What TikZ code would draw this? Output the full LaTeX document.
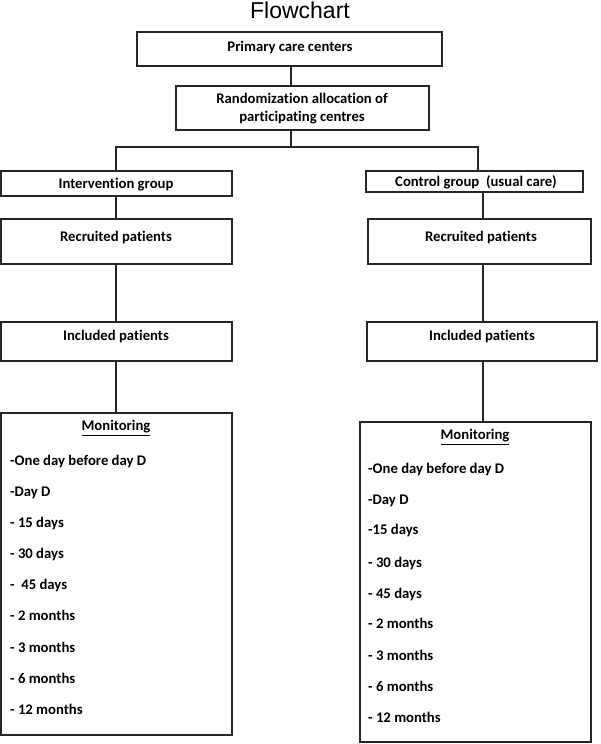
\documentclass[tikz,border=0pt]{standalone}
\usepackage{fontspec}
\setmainfont{Carlito}[Ligatures=CommonOff]
\newfontfamily\titlefont{Liberation Sans}
\begin{document}
\begin{tikzpicture}[x=1pt,y=-1pt,
  box/.style={draw=black!85,line width=1.2pt,rectangle,inner sep=0pt,outer sep=0pt},
  lbl/.style={font=\fontsize{14.7}{18}\selectfont\bfseries,inner sep=0pt,align=center},
  item/.style={font=\fontsize{14.7}{18}\selectfont\bfseries,inner sep=0pt,anchor=base west},
  conn/.style={draw=black!85,line width=1.2pt}]
\useasboundingbox (0,0) rectangle (600,744);
\node[font=\titlefont\fontsize{23}{26}\selectfont,inner sep=0pt,anchor=base] (title) at (300,18) {Flowchart};
% boxes
\node[box,minimum width=305,minimum height=34] (pcc) at (289.5,49) {};
\node[box,minimum width=253,minimum height=44] (rand) at (302.5,108) {};
\node[box,minimum width=231,minimum height=25] (ig) at (116.5,183.5) {};
\node[box,minimum width=217,minimum height=21] (cg) at (474.5,181.5) {};
\node[box,minimum width=231,minimum height=45] (rl) at (116.5,241.5) {};
\node[box,minimum width=223,minimum height=45] (rr) at (479.5,241.5) {};
\node[box,minimum width=231,minimum height=39] (il) at (116.5,341.5) {};
\node[box,minimum width=230,minimum height=39] (ir) at (482,341.5) {};
\node[box,minimum width=231,minimum height=322] (ml) at (116.5,574) {};
\node[box,minimum width=231,minimum height=320] (mr) at (475.5,582) {};
% labels
\node[lbl] (tpcc) at (290,47) {Primary care centers};
\node[lbl] (trand) at (302,109) {Randomization allocation of\\participating centres};
\node[lbl] (tig) at (116,185) {Intervention group};
\node[lbl] (tcg) at (476,182) {Control group\ \ (usual care)};
\node[lbl] (trl) at (116,237) {Recruited patients};
\node[lbl] (trr) at (481,237) {Recruited patients};
\node[lbl] (til) at (116,336) {Included patients};
\node[lbl] (tir) at (482,336) {Included patients};
\node[lbl] (tml) at (116,428) {\underline{Monitoring}};
\node[lbl] (tmr) at (475,437) {\underline{Monitoring}};
% left list
\node[item] (l1) at (10,465) {-One day before day D};
\node[item] (l2) at (10,496) {-Day D};
\node[item] (l3) at (10,527) {- 15 days};
\node[item] (l4) at (10,558) {- 30 days};
\node[item] (l5) at (10,589) {-\ \ 45 days};
\node[item] (l6) at (10,620) {- 2 months};
\node[item] (l7) at (10,652) {- 3 months};
\node[item] (l8) at (10,683) {- 6 months};
\node[item] (l9) at (10,714) {- 12 months};
% right list
\node[item] (r1) at (368,473) {-One day before day D};
\node[item] (r2) at (368,504) {-Day D};
\node[item] (r3) at (368,534) {-15 days};
\node[item] (r4) at (368,567) {- 30 days};
\node[item] (r5) at (368,598) {- 45 days};
\node[item] (r6) at (368,628) {- 2 months};
\node[item] (r7) at (368,660) {- 3 months};
\node[item] (r8) at (368,691) {- 6 months};
\node[item] (r9) at (368,722) {- 12 months};
% connectors
\coordinate (split) at (291,147);
\coordinate (lx) at (116,147);
\coordinate (rx) at (478,147);
\coordinate (rcx) at (483,0);
\draw[conn] (pcc.south -| split) -- (rand.north -| split);
\draw[conn] (rand.south -| split) -- (split);
\draw[conn] (ig.north -| lx) -- (lx) -- (rx) -- (cg.north -| rx);
\draw[conn] (ig.south -| lx) -- (rl.north -| lx);
\draw[conn] (rl.south -| lx) -- (il.north -| lx);
\draw[conn] (il.south -| lx) -- (ml.north -| lx);
\draw[conn] (cg.south -| rcx) -- (rr.north -| rcx);
\draw[conn] (rr.south -| rcx) -- (ir.north -| rcx);
\draw[conn] (ir.south -| rcx) -- (mr.north -| rcx);
\end{tikzpicture}
\end{document}
